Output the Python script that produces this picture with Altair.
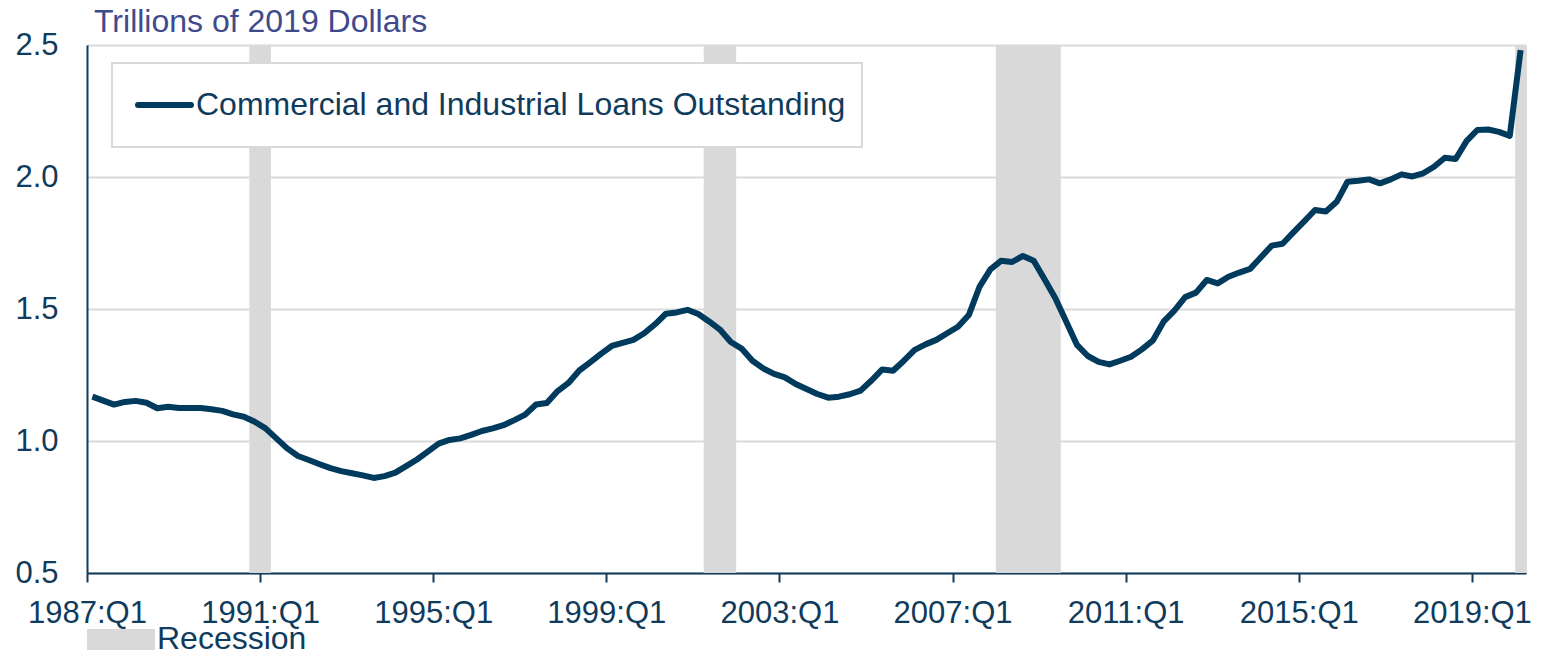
import altair as alt
import pandas as pd

# ---- data -------------------------------------------------------------
start_year = 1987
loans = [
    1.168, 1.153, 1.138, 1.148, 1.152, 1.145, 1.124, 1.130, 1.125, 1.125,
    1.125, 1.120, 1.114, 1.101, 1.092, 1.073, 1.048, 1.010, 0.972, 0.943,
    0.928, 0.912, 0.897, 0.886, 0.878, 0.870, 0.860, 0.867, 0.880, 0.905,
    0.930, 0.960, 0.990, 1.004, 1.010, 1.023, 1.038, 1.048, 1.060, 1.079,
    1.100, 1.138, 1.144, 1.189, 1.220, 1.267, 1.298, 1.330, 1.360, 1.372,
    1.383, 1.408, 1.442, 1.482, 1.487, 1.497, 1.481, 1.453, 1.422, 1.375,
    1.350, 1.304, 1.275, 1.254, 1.241, 1.216, 1.197, 1.178, 1.164, 1.168,
    1.177, 1.191, 1.229, 1.271, 1.266, 1.304, 1.345, 1.366, 1.383, 1.408,
    1.433, 1.477, 1.585, 1.650, 1.683, 1.678, 1.701, 1.683, 1.613, 1.541,
    1.453, 1.364, 1.322, 1.300, 1.290, 1.304, 1.319, 1.347, 1.380, 1.452,
    1.494, 1.545, 1.562, 1.610, 1.597, 1.622, 1.638, 1.652, 1.696, 1.740,
    1.747, 1.790, 1.832, 1.875, 1.869, 1.906, 1.982, 1.986, 1.991, 1.976,
    1.991, 2.010, 2.002, 2.014, 2.039, 2.073, 2.068, 2.136, 2.178, 2.180,
    2.171, 2.156, 2.481,
]
quarters = [f"{start_year + i // 4}:Q{i % 4 + 1}" for i in range(len(loans))]

recession_start = ["1990:Q4", "2001:Q2", "2008:Q1", "2020:Q1"]
recession_end = ["1991:Q1", "2001:Q4", "2009:Q2", "2020:Q1"]

tick_labels = ["1987:Q1", "1991:Q1", "1995:Q1", "1999:Q1", "2003:Q1",
               "2007:Q1", "2011:Q1", "2015:Q1", "2019:Q1"]
y_ticks = [0.5, 1.0, 1.5, 2.0, 2.5]

series_name = "Commercial and Industrial Loans Outstanding"
y_title = "Trillions of 2019 Dollars"

# ---- tables -----------------------------------------------------------
line_df = pd.DataFrame({
    "quarter": quarters,
    "pos": [i + 0.5 for i in range(len(loans))],
    "value": loans,
})
rec_df = pd.DataFrame({
    "start": [quarters.index(s) for s in recession_start],
    "end": [quarters.index(e) + 1 for e in recession_end],
})
tick_pos = [quarters.index(t) for t in tick_labels]
label_map = {str(p): t for p, t in zip(tick_pos, tick_labels)}
label_expr = "{" + ",".join(f"'{k}':'{v}'" for k, v in label_map.items()) + "}[datum.value]"

FONT = "Liberation Sans"
NAVY = "#0f3b5c"
LINE = "#003a5c"
GRAY = "#d9d9d9"
W, H = 1439, 528

x_scale = alt.Scale(domain=[0, len(loans)], nice=False, zero=False)
y_scale = alt.Scale(domain=[0.5, 2.5], nice=False, zero=False)

base_x_axis = alt.Axis(
    values=tick_pos, labelExpr=label_expr, title=None, grid=False,
    domainColor=NAVY, domainWidth=2, tickColor=NAVY, tickWidth=2,
    tickSize=9, labelFontSize=31, labelColor=NAVY, labelFont=FONT,
    labelPadding=16, labelFlush=False, labelOverlap=False,
)
base_y_axis = alt.Axis(
    values=y_ticks, format=".1f", title=None, grid=True, ticks=False,
    gridColor=GRAY, gridWidth=2, domainColor=NAVY, domainWidth=2,
    labelFontSize=31, labelColor=NAVY, labelFont=FONT, labelPadding=29,
)

rec = alt.Chart(rec_df).mark_rect(color=GRAY).encode(
    x=alt.X("start:Q", scale=x_scale, axis=base_x_axis),
    x2="end:Q",
    y=alt.value(0),
    y2=alt.value(H),
)

line = alt.Chart(line_df).mark_line(color=LINE, strokeWidth=6, strokeJoin="round").encode(
    x=alt.X("pos:Q", scale=x_scale),
    y=alt.Y("value:Q", scale=y_scale, axis=base_y_axis),
    tooltip=["quarter", "value"],
)

one = pd.DataFrame({"t": [series_name]})

legend_box = alt.Chart(one).mark_rect(fill="white", stroke=GRAY, strokeWidth=2).encode(
    x=alt.value(25), x2=alt.value(775), y=alt.value(18), y2=alt.value(102)
)
legend_line = alt.Chart(one).mark_rule(color=LINE, strokeWidth=6, strokeCap="round").encode(
    x=alt.value(51), x2=alt.value(104), y=alt.value(60)
)
legend_text = alt.Chart(one).mark_text(
    align="left", baseline="alphabetic", font=FONT, fontSize=32, color=NAVY
).encode(text="t:N", x=alt.value(109), y=alt.value(70))

title_text = alt.Chart(pd.DataFrame({"t": [y_title]})).mark_text(
    align="left", baseline="alphabetic", font=FONT, fontSize=32, color="#3e4a8c"
).encode(text="t:N", x=alt.value(7), y=alt.value(-13))

rec_sym = alt.Chart(one).mark_rect(color=GRAY).encode(
    x=alt.value(0), x2=alt.value(68), y=alt.value(H + 56), y2=alt.value(H + 77)
)
rec_text = alt.Chart(pd.DataFrame({"t": ["Recession"]})).mark_text(
    align="left", baseline="alphabetic", font=FONT, fontSize=32, color=NAVY
).encode(text="t:N", x=alt.value(70), y=alt.value(H + 76))

chart = alt.layer(
    rec, line, legend_box, legend_line, legend_text, title_text, rec_sym, rec_text
).properties(
    width=W, height=H,
    autosize=alt.AutoSizeParams(type="none"),
    padding={"left": 79, "top": 37, "right": 14, "bottom": 77},
).configure_view(stroke=None).configure(font=FONT)

chart.save("out.html", embed_options={"renderer": "svg", "actions": False})
